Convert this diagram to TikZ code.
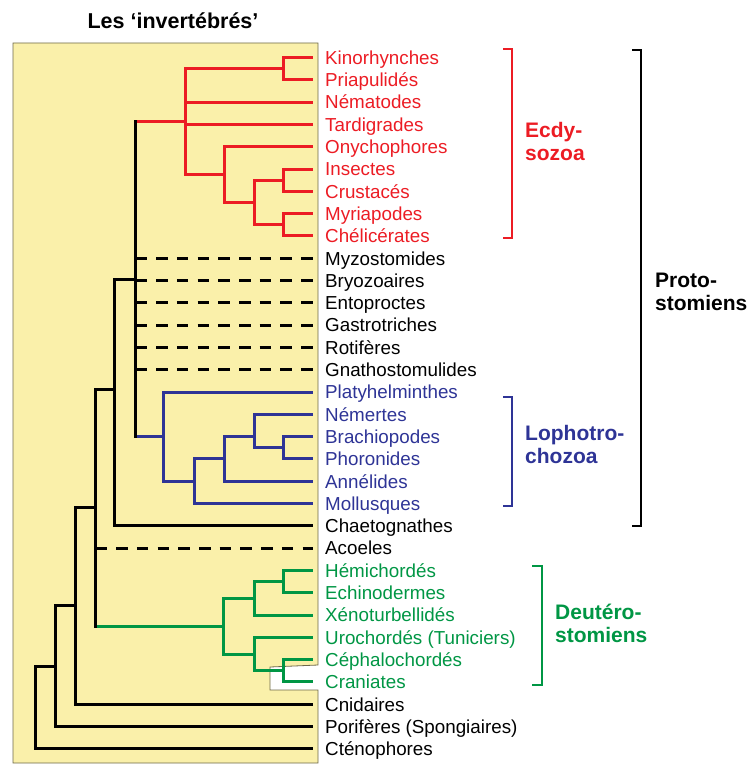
\documentclass[tikz,border=0pt]{standalone}
\usepackage{fontspec}
\setmainfont{Liberation Sans}
\definecolor{ecdred}{RGB}{236,28,36}
\definecolor{lophblue}{RGB}{46,52,150}
\definecolor{deutgreen}{RGB}{0,150,68}
\definecolor{panelfill}{RGB}{250,240,170}
\definecolor{paneledge}{RGB}{110,105,75}

\begin{document}
\begin{tikzpicture}[x=1pt,y=-1pt,
  stem/.style={line width=3pt},
  bar/.style={line width=3pt,line cap=rect},
  unsure/.style={line width=3pt,dash pattern=on 11.5pt off 9.2pt},
  bracket/.style={line width=2pt},
  leaf/.style={anchor=base west,inner sep=0pt,font=\fontsize{18.8}{22}\selectfont},
  group/.style={anchor=base west,inner sep=0pt,font=\fontsize{21}{24}\selectfont\bfseries},
]
\useasboundingbox (0,0) rectangle (749,765);

% yellow panel behind the tree, with the notch around the craniates
\filldraw[fill=panelfill,draw=paneledge,line width=0.8pt]
  (13,43) -- (318,43) -- (318,665) -- (270,667) -- (270,690)
  -- (318,690) -- (318,763) -- (13,763) -- cycle;

\node[anchor=base,inner sep=0pt,font=\fontsize{21.5}{25}\selectfont\bfseries] (title) at (173,29) {Les ‘invertébrés’};

% leaves: tip of the branch (on a pixel row) and its label
\foreach \i/\name/\col in {
  0/Kinorhynches/ecdred, 1/Priapulidés/ecdred, 2/Nématodes/ecdred,
  3/Tardigrades/ecdred, 4/Onychophores/ecdred, 5/Insectes/ecdred,
  6/Crustacés/ecdred, 7/Myriapodes/ecdred, 8/Chélicérates/ecdred,
  9/Myzostomides/black, 10/Bryozoaires/black, 11/Entoproctes/black,
  12/Gastrotriches/black, 13/Rotifères/black, 14/Gnathostomulides/black,
  15/Platyhelminthes/lophblue, 16/Némertes/lophblue, 17/Brachiopodes/lophblue,
  18/Phoronides/lophblue, 19/Annélides/lophblue, 20/Mollusques/lophblue,
  21/Chaetognathes/black, 22/Acoeles/black,
  23/Hémichordés/deutgreen, 24/Echinodermes/deutgreen, 25/Xénoturbellidés/deutgreen,
  26/{Urochordés (Tuniciers)}/deutgreen, 27/Céphalochordés/deutgreen, 28/Craniates/deutgreen,
  29/Cnidaires/black, 30/{Porifères (Spongiaires)}/black, 31/Cténophores/black}{
  \coordinate (t\i) at (313,{floor(57.5+22.3*\i)+0.5});
  \node[leaf,text=\col] (l\i) at (325,{64.3+22.3*\i}) {\name};
}

% internal nodes: (x of the bar, y where the stem joins)
\coordinate (kp)   at (283.5,68.5);
\coordinate (ic)   at (283.5,180.5);
\coordinate (mc)   at (283.5,224.5);
\coordinate (arth) at (254.5,202.5);
\coordinate (pan)  at (224.5,174.5);
\coordinate (ecd)  at (185.5,121.5);
\coordinate (bp)   at (283.5,447.5);
\coordinate (nbp)  at (254.5,436.5);
\coordinate (lb)   at (224.5,458.5);
\coordinate (la)   at (194.5,481.5);
\coordinate (loph) at (163.5,436.5);
\coordinate (protc) at (135.5,279.5);
\coordinate (prot) at (114.5,389.5);
\coordinate (bil)  at (95.5,507.5);
\coordinate (he)   at (283.5,581.5);
\coordinate (hex)  at (254.5,598.5);
\coordinate (cc)   at (283.5,670.5);
\coordinate (ucc)  at (254.5,654.5);
\coordinate (deut) at (223.5,626.5);
\coordinate (eum)  at (75.5,605.5);
\coordinate (pe)   at (55.5,666.5);
\coordinate (root) at (35.5,707.5);

% stems, coloured like the clade they lead to
\begin{scope}[stem,ecdred]
  \draw (kp |- t0) -- (t0);  \draw (kp |- t1) -- (t1);
  \draw (ic |- t5) -- (t5);  \draw (ic |- t6) -- (t6);
  \draw (mc |- t7) -- (t7);  \draw (mc |- t8) -- (t8);
  \draw (arth |- ic) -- (ic); \draw (arth |- mc) -- (mc);
  \draw (pan |- t4) -- (t4); \draw (pan |- arth) -- (arth);
  \draw (ecd |- kp) -- (kp); \draw (ecd |- t2) -- (t2);
  \draw (ecd |- t3) -- (t3); \draw (ecd |- pan) -- (pan);
  \draw (protc |- ecd) -- (ecd);
\end{scope}
\begin{scope}[stem,lophblue]
  \draw (bp |- t17) -- (t17); \draw (bp |- t18) -- (t18);
  \draw (nbp |- t16) -- (t16); \draw (nbp |- bp) -- (bp);
  \draw (lb |- nbp) -- (nbp); \draw (lb |- t19) -- (t19);
  \draw (la |- lb) -- (lb);   \draw (la |- t20) -- (t20);
  \draw (loph |- t15) -- (t15); \draw (loph |- la) -- (la);
  \draw (protc |- loph) -- (loph);
\end{scope}
\begin{scope}[stem,deutgreen]
  \draw (he |- t23) -- (t23); \draw (he |- t24) -- (t24);
  \draw (hex |- he) -- (he);  \draw (hex |- t25) -- (t25);
  \draw (cc |- t27) -- (t27); \draw (cc |- t28) -- (t28);
  \draw (ucc |- t26) -- (t26); \draw (ucc |- cc) -- (cc);
  \draw (deut |- hex) -- (hex); \draw (deut |- ucc) -- (ucc);
  \draw (bil |- deut) -- (deut);
\end{scope}
\begin{scope}[stem,black]
  \draw (prot |- protc) -- (protc);
  \draw (prot |- t21) -- (t21);
  \draw (bil |- prot) -- (prot);
  \draw (eum |- bil) -- (bil);
  \draw (eum |- t29) -- (t29);
  \draw (pe |- eum) -- (eum);
  \draw (pe |- t30) -- (t30);
  \draw (root |- pe) -- (pe);
  \draw (root |- t31) -- (t31);
\end{scope}
% groups of uncertain position
\foreach \i in {9,...,14}{\draw[unsure] (protc |- t\i) -- (t\i);}
\draw[unsure] (bil |- t22) -- (t22);

% vertical bars of the internal nodes
\begin{scope}[bar,ecdred]
  \draw (kp |- t0) -- (kp |- t1);
  \draw (ic |- t5) -- (ic |- t6);
  \draw (mc |- t7) -- (mc |- t8);
  \draw (arth |- ic) -- (arth |- mc);
  \draw (pan |- t4) -- (pan |- arth);
  \draw (ecd |- kp) -- (ecd |- pan);
\end{scope}
\begin{scope}[bar,lophblue]
  \draw (bp |- t17) -- (bp |- t18);
  \draw (nbp |- t16) -- (nbp |- bp);
  \draw (lb |- nbp) -- (lb |- t19);
  \draw (la |- lb) -- (la |- t20);
  \draw (loph |- t15) -- (loph |- la);
\end{scope}
\begin{scope}[bar,deutgreen]
  \draw (he |- t23) -- (he |- t24);
  \draw (hex |- he) -- (hex |- t25);
  \draw (cc |- t27) -- (cc |- t28);
  \draw (ucc |- t26) -- (ucc |- cc);
  \draw (deut |- hex) -- (deut |- ucc);
\end{scope}
\begin{scope}[bar,black]
  \draw (protc |- ecd) -- (protc |- loph);
  \draw (prot |- protc) -- (prot |- t21);
  \draw (bil |- prot) -- (bil |- deut);
  \draw (eum |- bil) -- (eum |- t29);
  \draw (pe |- eum) -- (pe |- t30);
  \draw (root |- pe) -- (root |- t31);
\end{scope}

% brackets and group names
\draw[bracket,ecdred] (503,49) -- (512,49) -- (512,238) -- (503,238);
\node[group,text=ecdred] (ecdA) at (525,137) {Ecdy-};
\node[group,text=ecdred] (ecdB) at (525,160.5) {sozoa};

\draw[bracket,lophblue] (503,397) -- (512,397) -- (512,506) -- (503,506);
\node[group,text=lophblue] (lophA) at (525,440) {Lophotro-};
\node[group,text=lophblue] (lophB) at (525,463.5) {chozoa};

\draw[bracket,black] (632,50) -- (641,50) -- (641,526) -- (632,526);
\node[group] (protA) at (655,287) {Proto-};
\node[group] (protB) at (655,310.5) {stomiens};

\draw[bracket,deutgreen] (532,566) -- (542,566) -- (542,685) -- (532,685);
\node[group,text=deutgreen] (deutA) at (555,619) {Deutéro-};
\node[group,text=deutgreen] (deutB) at (555,642.5) {stomiens};
\end{tikzpicture}
\end{document}
